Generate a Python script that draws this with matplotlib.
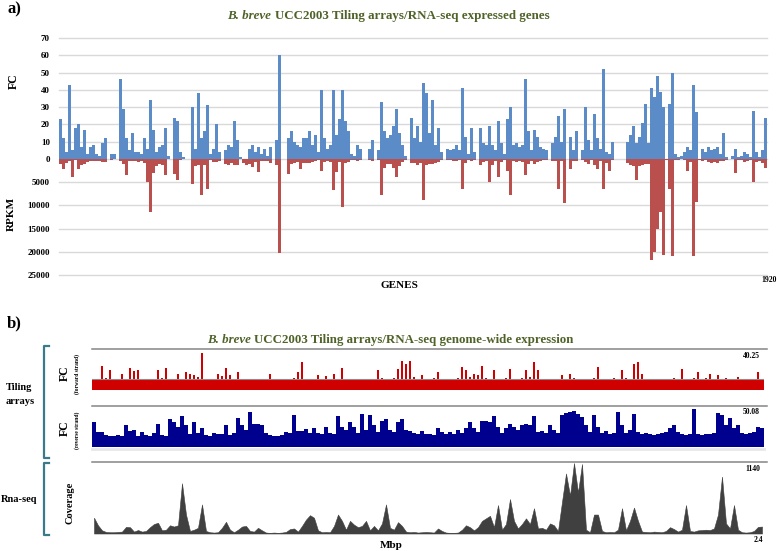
import numpy as np
import matplotlib
matplotlib.use("Agg")
import matplotlib.pyplot as plt
from matplotlib.lines import Line2D

# ---------------- data: panel a (expressed genes, binned representation) -------------
n_genes = 1920
fc_ticks = [0, 10, 20, 30, 40, 50, 60, 70]
rpkm_ticks = [5000, 10000, 15000, 20000, 25000]

fc_values = [
    23, 12, 4, 43, 5, 18, 20, 7, 17, 3, 7, 8, 3, 2, 9, 12, 0, 3, 3, 0,
    46, 29, 12, 5, 15, 4, 4, 3, 12, 6, 34, 17, 4, 7, 8, 18, 2, 0, 24, 22,
    4, 1, 0, 0, 30, 6, 38, 12, 16, 31, 3, 6, 20, 4, 0, 5, 8, 7, 22, 11,
    1, 0, 0, 6, 8, 4, 7, 3, 6, 2, 7, 0, 11, 60, 0, 0, 12, 16, 10,
    8, 7, 12, 12, 16, 8, 14, 4, 40, 12, 6, 8, 40, 14, 23, 40, 22, 16, 3, 2,
    8, 6, 0, 0, 6, 11, 0, 5, 33, 16, 12, 14, 19, 29, 15, 8, 2, 0, 24, 12,
    19, 10, 44, 38, 15, 34, 8, 18, 4, 0, 6, 5, 6, 8, 5, 41, 13, 3, 18, 4,
    0, 18, 9, 8, 19, 8, 5, 22, 9, 3, 23, 30, 8, 9, 7, 8, 46, 16,
    5, 17, 13, 7, 6, 5, 0, 9, 13, 25, 10, 29, 0, 13, 5, 16, 0, 5, 30, 11,
    5, 26, 12, 6, 52, 4, 3, 10, 0, 0, 0, 0, 10, 14, 19, 9, 13, 21, 32, 9,
    41, 36, 48, 39, 30, 0, 32, 50, 3, 1, 2, 4, 7, 5, 43, 27, 0, 6, 4, 7,
    5, 6, 7, 3, 15, 1, 0, 2, 6, 1, 2, 4, 3, 1, 28, 4, 1, 5, 24,
]
rpkm_values = [
    1000, 2100, 800, 500, 3900, 300, 2100, 1300, 1100, 600, 500, 500, 500, 400, 700, 600, 0, 300, 0, 0,
    500, 1000, 3500, 500, 500, 400, 600, 500, 800, 5000, 11400, 3000, 1500, 1100, 1200, 3500, 0, 0, 3200, 4600,
    300, 0, 0, 0, 5300, 1500, 1200, 7800, 1200, 6400, 300, 700, 700, 500, 0, 1000, 1300, 900, 1200, 1300,
    0, 800, 1200, 1100, 1700, 600, 2800, 400, 500, 400, 900, 0, 1200, 20300, 0, 0, 3200, 1000, 800,
    700, 2100, 800, 800, 800, 600, 500, 300, 2500, 600, 400, 600, 6700, 2800, 700, 10300, 800, 700, 300, 200,
    400, 300, 0, 0, 300, 500, 0, 200, 7800, 2000, 1000, 1000, 2000, 3900, 1500, 600, 200, 0, 800, 800,
    1200, 900, 8900, 1200, 1000, 1000, 800, 600, 300, 0, 300, 300, 400, 500, 300, 6400, 900, 300, 500, 200,
    0, 1200, 700, 500, 5000, 1200, 500, 3900, 700, 300, 2500, 7800, 500, 600, 500, 600, 3500, 1000,
    400, 1100, 600, 400, 300, 300, 0, 500, 500, 6400, 500, 9400, 0, 2100, 400, 400, 0, 300, 600, 1000,
    300, 1200, 2100, 500, 6400, 800, 2500, 300, 100, 100, 100, 0, 800, 1200, 1500, 4500, 1500, 1200, 1000, 1000,
    21700, 20000, 15000, 11400, 20600, 200, 6400, 20800, 200, 200, 100, 300, 2500, 600, 20800, 9200, 200, 500, 300, 600,
    800, 700, 900, 500, 400, 200, 0, 100, 3000, 200, 300, 600, 500, 300, 5000, 700, 400, 800, 2000,
]

# ---------------- data: panel b (genome-wide tracks, binned) -------------
genome_mbp = 2.4
fwd_max = 40.25
rev_max = 50.08
cov_max = 1140
fwd_threshold = 10.8
fwd_base = 10
rev_base = 14

fwd_fc = [
    11, 10, 24, 12, 20, 10, 11, 16, 11, 22, 19, 20, 10, 11, 10, 11, 20, 12, 22, 11,
    10, 16, 11, 18, 16, 15, 13, 36, 11, 10, 11, 16, 14, 22, 15, 11, 18, 11, 10, 10,
    11, 10, 10, 11, 16, 10, 10, 11, 10, 11, 12, 18, 27, 11, 10, 11, 15, 11, 14, 10,
    16, 11, 22, 11, 10, 10, 11, 10, 11, 10, 11, 20, 12, 11, 10, 12, 21, 28, 26, 28,
    13, 11, 15, 11,
    11, 12, 18, 11, 10, 11, 10, 12, 23, 20, 13, 16, 15, 24, 12, 11, 20, 11, 10, 12,
    21, 11, 10, 12, 20, 13, 27, 20, 11, 10, 11, 10, 11, 15, 11, 16, 12, 11, 10, 11,
    10, 12, 23, 11, 10, 11, 12, 11, 20, 12, 11, 26, 27, 16, 11, 10, 11, 10, 11, 10,
    11, 12, 11, 21, 11, 10, 12, 18, 11, 12, 16, 11, 15, 11, 12, 11, 10, 13, 11, 10,
    11, 10, 18, 11,
]
rev_fc = [
    30, 18, 18, 14, 13, 13, 14, 13, 26, 19, 20, 13, 18, 14, 13, 16, 28, 14, 13, 34,
    30, 24, 37, 26, 15, 30, 16, 22, 14, 13, 17, 15, 15, 26, 14, 16, 35, 26, 20, 42,
    28, 28, 26, 16, 14, 13, 13, 14, 18, 17, 39, 19, 19, 21, 16, 22, 17, 15, 24, 16,
    15, 37, 24, 20, 30, 24, 16, 40, 20, 39, 26, 18, 31, 33, 20, 18, 30, 34, 20, 19,
    16, 15, 19, 15,
    15, 14, 22, 18, 15, 18, 15, 20, 17, 22, 30, 22, 18, 31, 31, 30, 37, 24, 17, 22,
    28, 24, 20, 26, 28, 26, 37, 18, 19, 17, 26, 20, 16, 38, 41, 42, 43, 40, 36, 26,
    18, 38, 24, 17, 19, 15, 16, 42, 26, 16, 20, 40, 18, 15, 16, 15, 14, 15, 16, 18,
    22, 26, 18, 15, 14, 15, 46, 15, 14, 15, 15, 17, 41, 38, 26, 35, 22, 26, 17, 15,
    16, 18, 24, 22,
]
coverage = [
    250, 130, 50, 25, 20, 20, 25, 30, 105, 100, 30, 55, 30, 40, 100, 150, 170, 50, 60, 130,
    110, 130, 795, 300, 40, 60, 90, 460, 40, 20, 15, 20, 90, 185, 60, 20, 60, 110, 120, 40,
    30, 90, 50, 15, 10, 15, 10, 15, 25, 70, 80, 30, 120, 220, 290, 250, 50, 20, 25, 20,
    120, 300, 200, 60, 200, 140, 100, 120, 200, 50, 120, 50, 160, 460, 90, 60, 180, 120, 30, 20,
    25, 15, 20, 25,
    20, 15, 80, 40, 15, 10, 10, 15, 60, 130, 100, 50, 100, 200, 240, 280, 100, 450, 60, 150,
    545, 200, 80, 150, 240, 150, 400, 80, 90, 60, 160, 130, 40, 500, 950, 600, 1115, 650, 1100, 60,
    20, 300, 300, 40, 20, 25, 20, 60, 400, 50, 200, 410, 200, 30, 25, 20, 30, 25, 20, 40,
    100, 70, 30, 60, 450, 40, 30, 50, 55, 60, 55, 80, 300, 900, 160, 80, 450, 60, 20, 15,
    20, 40, 105, 110,
]

# ---------------- figure ----------------
W, H = 777, 551
fig = plt.figure(figsize=(W / 100, H / 100), dpi=100)
SERIF = "Liberation Serif"
TITLE_COLOR = "#4F6228"


def fx(px):
    return px / W


def fy(py):
    return 1 - py / H


def rect(x0, y0, x1, y1):
    return [fx(x0), fy(y1), (x1 - x0) / W, (y1 - y0) / H]


renderer = fig.canvas.get_renderer()


def measure(s, size, style="normal"):
    t = fig.text(0, 0, s, fontsize=size, fontweight="bold", style=style, family=SERIF)
    w = t.get_window_extent(renderer).width
    t.remove()
    return w


def mixed_title(parts, x_left, x_right, y, color):
    """Render italic/regular pieces in bold serif, fitted to the target width."""
    size = 9.0
    for _ in range(3):
        widths = [measure(s, size, st) for s, st in parts]
        space = measure("a a", size) - measure("aa", size)
        total = sum(widths) + space * (len(parts) - 1)
        size *= (x_right - x_left) / total
    widths = [measure(s, size, st) for s, st in parts]
    space = measure("a a", size) - measure("aa", size)
    total = sum(widths) + space * (len(parts) - 1)
    x = (x_left + x_right) / 2 - total / 2
    for (s, st), w in zip(parts, widths):
        fig.text(fx(x), fy(y), s, fontsize=size, fontweight="bold", style=st,
                 family=SERIF, color=color, va="center", ha="left")
        x += w + space


# ---------------- panel a ----------------
N = len(fc_values)
xpos = (np.arange(N) + 0.5) * n_genes / N
bw = n_genes / N * 0.7
BLUE_A = "#5B8CC8"
RED_A = "#BA504D"
GRID = "#D9D9D9"

ax_fc = fig.add_axes(rect(59, 38, 767, 159))
ax_rp = fig.add_axes(rect(59, 159, 767, 275))
for ax in (ax_fc, ax_rp):
    for s in ax.spines.values():
        s.set_visible(False)
    ax.set_xlim(0, n_genes)
    ax.set_xticks([])
    ax.tick_params(axis="y", length=0, pad=6.5)
    ax.set_axisbelow(True)
    ax.yaxis.grid(True, color=GRID, lw=1.0)
    ax.patch.set_alpha(0)

ax_fc.bar(xpos, fc_values, width=bw, color=BLUE_A, linewidth=0)
ax_fc.set_ylim(0, 70)
ax_fc.set_yticks(fc_ticks)
ax_rp.bar(xpos, rpkm_values, width=bw, color=RED_A, linewidth=0)
ax_rp.set_ylim(25000, 0)
ax_rp.set_yticks(rpkm_ticks)
for ax in (ax_fc, ax_rp):
    for lab in ax.get_yticklabels():
        lab.set_fontsize(6.5)
        lab.set_fontweight("bold")
        lab.set_family(SERIF)
    for gl in ax.get_ygridlines():
        gl.set_clip_on(False)

fig.text(fx(7), fy(9), "a)", fontsize=12, fontweight="bold", family=SERIF, va="center", ha="left")
mixed_title([("B. breve", "italic"), ("UCC2003 Tiling arrays/RNA-seq expressed genes", "normal")],
            227, 550, 16, TITLE_COLOR)
fig.text(fx(13.5), fy(81), "FC", fontsize=8.5, fontweight="bold", family=SERIF,
         rotation=90, va="center", ha="center")
fig.text(fx(11), fy(214), "RPKM", fontsize=8, fontweight="bold", family=SERIF,
         rotation=90, va="center", ha="center")
fig.text(fx(399), fy(285), "GENES", fontsize=8, fontweight="bold", family=SERIF,
         va="center", ha="center")
fig.text(fx(777), fy(280), str(n_genes), fontsize=5.5, fontweight="bold", family=SERIF,
         va="center", ha="right")

# ---------------- panel b ----------------
fig.text(fx(7), fy(323), "b)", fontsize=12, fontweight="bold", family=SERIF, va="center", ha="left")
mixed_title([("B. breve", "italic"), ("UCC2003 Tiling arrays/RNA-seq genome-wide expression", "normal")],
            207, 573, 340, TITLE_COLOR)

M = len(coverage)
jx = np.arange(M)
TRACK_L, TRACK_R = 92, 764
LINE_GRAY = "#858585"

ax_f = fig.add_axes(rect(TRACK_L, 349, TRACK_R, 390))
ax_r = fig.add_axes(rect(TRACK_L, 405.5, TRACK_R, 446.5))
ax_c = fig.add_axes(rect(TRACK_L, 461.5, TRACK_R, 533.5))
for ax in (ax_f, ax_r, ax_c):
    ax.set_xlim(-0.5, M - 0.5)
    ax.set_xticks([]); ax.set_yticks([])
    for s in ax.spines.values():
        s.set_visible(False)
    ax.patch.set_alpha(0)

RED_T = "#D00000"
NAVY_T = "#00008F"
fwd_arr = np.array(fwd_fc, float)
rev_arr = np.array(rev_fc, float)
ax_f.bar(jx, np.minimum(fwd_arr, fwd_base), width=1.0, color=RED_T, linewidth=0)
ax_f.bar(jx, fwd_arr, width=0.6, color=RED_T, linewidth=0)
ax_f.axhline(fwd_threshold, color="#8C8C8C", lw=0.8)
ax_f.set_ylim(0, fwd_max)

ax_r.bar(jx, np.minimum(rev_arr, rev_base), width=1.0, color=NAVY_T, linewidth=0)
ax_r.bar(jx, rev_arr, width=0.8, color=NAVY_T, linewidth=0)
ax_r.set_ylim(0, rev_max)

ax_c.fill_between(jx, coverage, 0, color="#404040", linewidth=0.4, edgecolor="#404040")
ax_c.axhline(0, color="#9A9A9A", lw=0.6, ls=(0, (2, 1)))
ax_c.set_ylim(0, cov_max)

# gray top lines of the tracks
for yy in (349, 405.5, 461.5):
    fig.add_artist(Line2D([fx(TRACK_L), fx(767)], [fy(yy), fy(yy)], color=LINE_GRAY, lw=1.1))
fig.add_artist(Line2D([fx(TRACK_L), fx(TRACK_R)], [fy(449), fy(449)], color="#E8E8E8", lw=2.0))

fig.text(fx(760), fy(356), f"{fwd_max:.2f}", fontsize=5.5, fontweight="bold", family=SERIF, va="center", ha="right")
fig.text(fx(760), fy(412), f"{rev_max:.2f}", fontsize=5.5, fontweight="bold", family=SERIF, va="center", ha="right")
fig.text(fx(760), fy(469), f"{cov_max}", fontsize=5.5, fontweight="bold", family=SERIF, va="center", ha="right")
fig.text(fx(763), fy(540), f"{genome_mbp}", fontsize=5.5, fontweight="bold", family=SERIF, va="center", ha="right")
fig.text(fx(391), fy(545), "Mbp", fontsize=8, fontweight="bold", family=SERIF, va="center", ha="center")

# left labels
fig.text(fx(65), fy(373), "FC", fontsize=8.5, fontweight="bold", family=SERIF, rotation=90, va="center", ha="center")
fig.text(fx(77), fy(374), "(forward strand)", fontsize=4, fontweight="bold", family=SERIF, rotation=90, va="center", ha="center")
fig.text(fx(65), fy(428), "FC", fontsize=8.5, fontweight="bold", family=SERIF, rotation=90, va="center", ha="center")
fig.text(fx(77), fy(430), "(reverse strand)", fontsize=4, fontweight="bold", family=SERIF, rotation=90, va="center", ha="center")
fig.text(fx(70), fy(503), "Coverage", fontsize=7.5, fontweight="bold", family=SERIF, rotation=90, va="center", ha="center")

fig.text(fx(19), fy(388), "Tiling", fontsize=7.5, fontweight="bold", family=SERIF, va="center", ha="center")
fig.text(fx(20), fy(402), "arrays", fontsize=7.5, fontweight="bold", family=SERIF, va="center", ha="center")
fig.text(fx(19), fy(499), "Rna-seq", fontsize=7.5, fontweight="bold", family=SERIF, va="center", ha="center")

BR = "#3B7A8A"
for (y0, y1) in ((346, 458), (463, 535)):
    fig.add_artist(Line2D([fx(48.5), fx(44), fx(44), fx(48.5)],
                          [fy(y0), fy(y0), fy(y1), fy(y1)], color=BR, lw=1.6))

fig.savefig("out.png", dpi=100)
